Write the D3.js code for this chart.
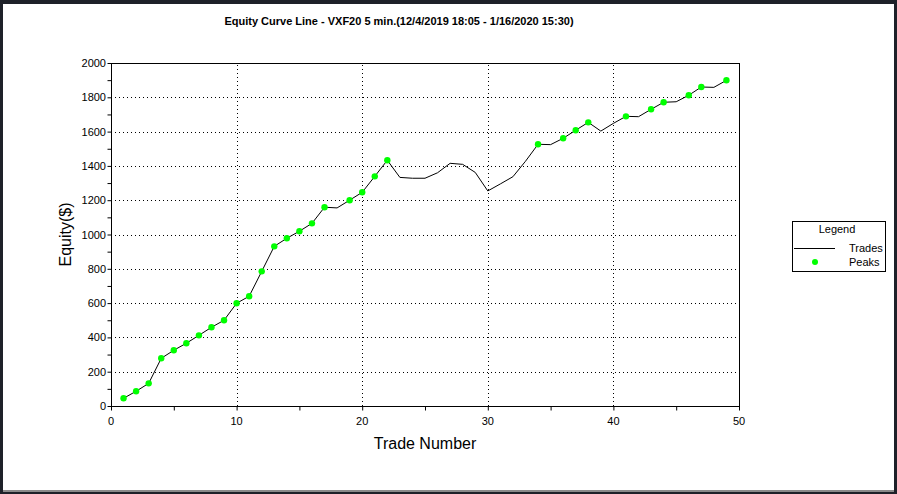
<!DOCTYPE html>
<html>
<head>
<meta charset="utf-8">
<script src="https://cdn.jsdelivr.net/npm/d3@7"></script>
<style>
  html, body { margin: 0; padding: 0; background: #1e2129; }
  svg { display: block; font-family: "Liberation Sans", Arial, sans-serif; }
</style>
</head>
<body>
<script>
// equity after each trade
const trades = d3.range(1, 50);
const equity = [
  45, 86, 132, 278, 325, 366, 412, 459, 500, 599,
  640, 785, 931, 978, 1019, 1065, 1159, 1155, 1200, 1246,
  1339, 1433, 1333, 1328, 1328, 1360, 1415, 1409, 1362, 1254,
  1295, 1337, 1427, 1526, 1524, 1561, 1608, 1654, 1603, 1648,
  1689, 1687, 1730, 1771, 1774, 1812, 1860, 1858, 1899
];
// trades that set a new equity high
const peakTrades = [1, 2, 3, 4, 5, 6, 7, 8, 9, 10, 11, 12, 13, 14, 15, 16, 17,
  19, 20, 21, 22, 34, 36, 37, 38, 41, 43, 44, 46, 47, 49];
const xTicks = [0, 10, 20, 30, 40, 50];
const yTicks = [0, 200, 400, 600, 800, 1000, 1200, 1400, 1600, 1800, 2000];
const titleText = "Equity Curve Line - VXF20 5 min.(12/4/2019 18:05 - 1/16/2020 15:30)";

const width = 897, height = 494;
const margin = { top: 63, right: 158, bottom: 88, left: 111 };

const svg = d3.select("body").append("svg")
  .attr("width", width)
  .attr("height", height);

// window frame
svg.append("rect")
  .attr("x", 3).attr("y", 4)
  .attr("width", 891).attr("height", 487)
  .attr("fill", "#fff");
svg.append("rect")
  .attr("x", 3).attr("y", 490)
  .attr("width", 891).attr("height", 2)
  .attr("fill", "#8a8a8a");

const xScale = d3.scaleLinear()
  .domain([0, 50])
  .range([margin.left, width - margin.right]);

const yScale = d3.scaleLinear()
  .domain([0, 2000])
  .range([height - margin.bottom, margin.top]);

// dotted grid
svg.append("g")
  .selectAll("line")
  .data(yTicks.slice(1, -1))
  .join("line")
  .attr("x1", xScale(0)).attr("x2", xScale(50))
  .attr("y1", d => Math.round(yScale(d)) + 0.5)
  .attr("y2", d => Math.round(yScale(d)) + 0.5)
  .attr("stroke", "#000")
  .attr("stroke-dasharray", "1,3");

svg.append("g")
  .selectAll("line")
  .data(xTicks.slice(1, -1))
  .join("line")
  .attr("x1", d => Math.round(xScale(d)) + 0.5)
  .attr("x2", d => Math.round(xScale(d)) + 0.5)
  .attr("y1", yScale(0)).attr("y2", yScale(2000))
  .attr("stroke", "#000")
  .attr("stroke-dasharray", "1,3");

// plot frame
svg.append("rect")
  .attr("x", xScale(0) + 0.5).attr("y", yScale(2000) + 0.5)
  .attr("width", xScale(50) - xScale(0))
  .attr("height", yScale(0) - yScale(2000))
  .attr("fill", "none")
  .attr("stroke", "#000");

// x axis
const xAxis = svg.append("g")
  .attr("transform", `translate(0,${yScale(0) + 0.5})`)
  .call(d3.axisBottom(xScale).tickValues(d3.range(0, 51, 5)).tickSize(4).tickFormat(""));
xAxis.select(".domain").remove();
xAxis.selectAll(".tick line").attr("stroke", "#000");

svg.append("g")
  .selectAll("text")
  .data(xTicks)
  .join("text")
  .attr("x", d => xScale(d))
  .attr("y", yScale(0) + 19)
  .attr("text-anchor", "middle")
  .attr("font-size", 11)
  .text(d => d);

// y axis
const yAxis = svg.append("g")
  .attr("transform", `translate(${xScale(0) + 0.5},0)`)
  .call(d3.axisLeft(yScale).tickValues(d3.range(0, 2001, 100)).tickSize(4).tickFormat(""));
yAxis.select(".domain").remove();
yAxis.selectAll(".tick line").attr("stroke", "#000");

svg.append("g")
  .selectAll("text")
  .data(yTicks)
  .join("text")
  .attr("x", xScale(0) - 5)
  .attr("y", d => yScale(d) + 4)
  .attr("text-anchor", "end")
  .attr("font-size", 11)
  .text(d => d);

// equity line
const line = d3.line()
  .x((d, i) => xScale(trades[i]))
  .y(d => yScale(d));

svg.append("path")
  .datum(equity)
  .attr("d", line)
  .attr("fill", "none")
  .attr("stroke", "#000")
  .attr("stroke-width", 1);

// peaks
svg.append("g")
  .selectAll("circle")
  .data(peakTrades)
  .join("circle")
  .attr("cx", d => xScale(d))
  .attr("cy", d => yScale(equity[d - 1]))
  .attr("r", 3.2)
  .attr("fill", "#00ff00");

// title and axis labels
svg.append("text")
  .attr("x", 399).attr("y", 25)
  .attr("text-anchor", "middle")
  .attr("font-size", 11)
  .attr("font-weight", "bold")
  .text(titleText);

svg.append("text")
  .attr("x", (xScale(0) + xScale(50)) / 2)
  .attr("y", 449)
  .attr("text-anchor", "middle")
  .attr("font-size", 16)
  .text("Trade Number");

svg.append("text")
  .attr("transform", `translate(71,${(yScale(0) + yScale(2000)) / 2}) rotate(-90)`)
  .attr("text-anchor", "middle")
  .attr("font-size", 16)
  .text("Equity($)");

// legend
const legend = svg.append("g").attr("transform", "translate(792,221)");
legend.append("rect")
  .attr("x", 0.5).attr("y", 0.5)
  .attr("width", 93).attr("height", 50)
  .attr("fill", "#fff")
  .attr("stroke", "#000");
legend.append("text")
  .attr("x", 45).attr("y", 12)
  .attr("text-anchor", "middle")
  .attr("font-size", 11)
  .text("Legend");
legend.append("line")
  .attr("x1", 2).attr("x2", 43)
  .attr("y1", 27.5).attr("y2", 27.5)
  .attr("stroke", "#000");
legend.append("text")
  .attr("x", 57).attr("y", 31)
  .attr("font-size", 11)
  .text("Trades");
legend.append("circle")
  .attr("cx", 23).attr("cy", 41)
  .attr("r", 3)
  .attr("fill", "#00ff00");
legend.append("text")
  .attr("x", 57).attr("y", 45)
  .attr("font-size", 11)
  .text("Peaks");
</script>
</body>
</html>
